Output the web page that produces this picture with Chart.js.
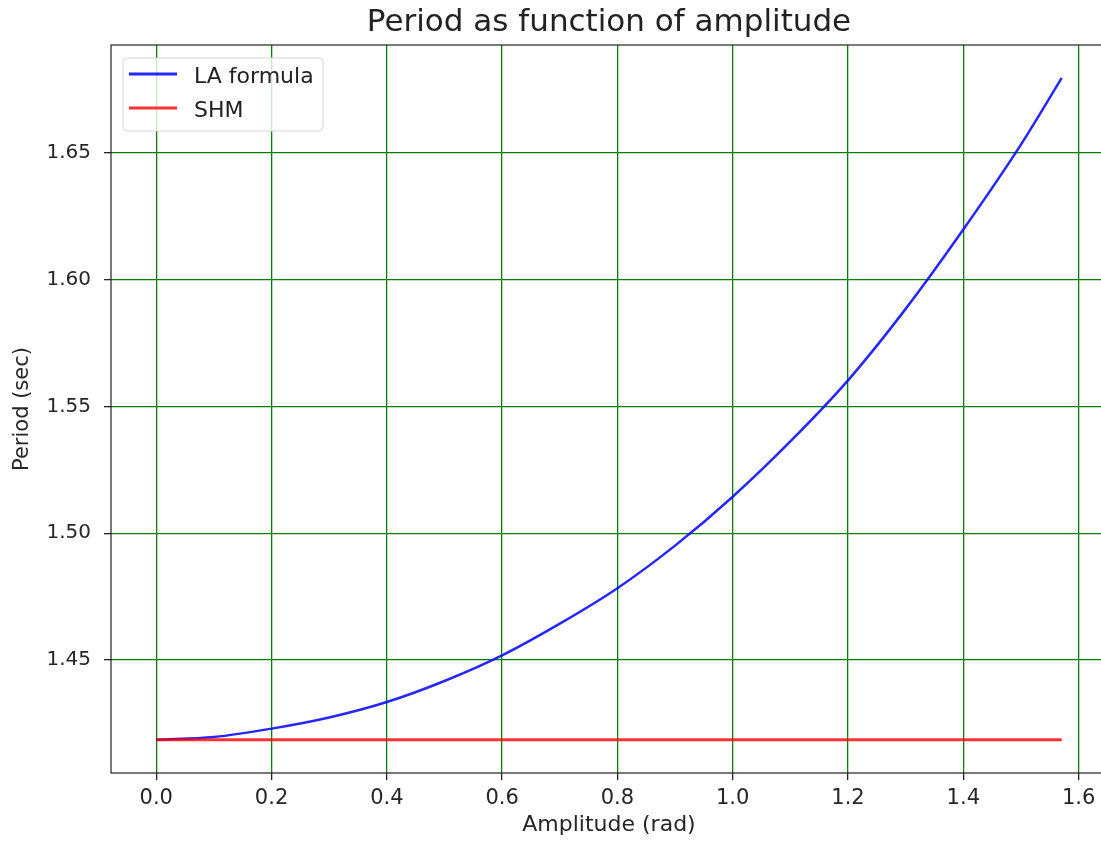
<!DOCTYPE html>
<html>
<head>
<meta charset="utf-8">
<script src="https://cdn.jsdelivr.net/npm/chart.js@4"></script>
<style>
  html, body { margin: 0; padding: 0; background: #fff; overflow: hidden; }
  #wrap { width: 1108px; height: 841px; position: relative; }
</style>
</head>
<body>
<div id="wrap"><canvas id="chart"></canvas></div>
<script>
// amplitude (rad) samples
const amplitude = [0, 0.1, 0.2, 0.3, 0.4, 0.5, 0.6, 0.7, 0.8, 0.9, 1.0, 1.1, 1.2, 1.3, 1.4, 1.5, 1.5708];
const laPeriod = [1.4185, 1.4196, 1.4229, 1.4273, 1.4334, 1.4417, 1.4518, 1.4643, 1.4783, 1.4951, 1.5144, 1.5362, 1.5603, 1.5885, 1.6198, 1.6533, 1.6796];
const shmAmplitude = [0, 1.5708];
const shmPeriod = [1.4185, 1.4185];

const xTicks = [0.0, 0.2, 0.4, 0.6, 0.8, 1.0, 1.2, 1.4, 1.6];
const yTicks = [1.45, 1.50, 1.55, 1.60, 1.65];

const titleText = "Period as function of amplitude";
const FONT = "'DejaVu Sans', sans-serif";

const toPoints = (xs, ys) => xs.map((x, i) => ({ x: x, y: ys[i] }));

// title over the plot box + box frame + legend inside (like matplotlib)
const mplLook = {
  id: "mplLook",
  afterDraw(chart) {
    const { ctx, chartArea: a } = chart;
    ctx.save();
    ctx.strokeStyle = "#222";
    ctx.lineWidth = 1.2;
    ctx.strokeRect(a.left, a.top, a.right - a.left, a.bottom - a.top);

    ctx.fillStyle = "#222";
    ctx.font = "31px " + FONT;
    ctx.textAlign = "center";
    ctx.textBaseline = "alphabetic";
    ctx.fillText(titleText, (a.left + a.right) / 2, 31);

    // legend
    const bx = 123, by = 58, bw = 200, bh = 73;
    ctx.beginPath();
    ctx.roundRect(bx, by, bw, bh, 4);
    ctx.fillStyle = "rgba(255,255,255,0.8)";
    ctx.fill();
    ctx.strokeStyle = "#d6d6d6";
    ctx.lineWidth = 1;
    ctx.stroke();
    const items = chart.data.datasets;
    const rows = [74, 108];
    ctx.font = "22px " + FONT;
    ctx.textAlign = "left";
    items.forEach((ds, i) => {
      ctx.beginPath();
      ctx.moveTo(129, rows[i]);
      ctx.lineTo(177, rows[i]);
      ctx.strokeStyle = ds.borderColor;
      ctx.lineWidth = 3;
      ctx.stroke();
      ctx.fillStyle = "#222";
      ctx.fillText(ds.label, 194, rows[i] + 9);
    });
    ctx.restore();
  }
};

new Chart(document.getElementById("chart"), {
  type: "scatter",
  data: {
    datasets: [
      {
        label: "LA formula",
        data: toPoints(amplitude, laPeriod),
        showLine: true,
        borderColor: "rgba(0,0,255,0.85)",
        borderWidth: 2.5,
        pointRadius: 0,
        cubicInterpolationMode: "monotone",
        order: 1,
      },
      {
        label: "SHM",
        data: toPoints(shmAmplitude, shmPeriod),
        showLine: true,
        borderColor: "rgba(255,0,0,0.8)",
        borderWidth: 3,
        pointRadius: 0,
        order: 0,
      },
    ],
  },
  options: {
    responsive: true,
    maintainAspectRatio: false,
    animation: false,
    layout: { padding: { top: 45, right: 1, bottom: 0, left: 0 } },
    plugins: {
      legend: { display: false },
      title: { display: false },
      tooltip: { enabled: false },
    },
    scales: {
      x: {
        type: "linear",
        min: -0.0785,
        max: 1.6493,
        afterBuildTicks: (s) => { s.ticks = xTicks.map((v) => ({ value: v })); },
        afterFit: (s) => { s.height = 68; },
        grid: { color: "green", lineWidth: 1.3, tickColor: "#222", tickLength: 7, drawOnChartArea: true },
        border: { display: false },
        ticks: {
          color: "#262626",
          padding: 6,
          maxRotation: 0,
          font: { family: FONT, size: 21 },
          callback: (v) => Number(v).toFixed(1),
        },
        title: {
          display: true,
          text: "Amplitude (rad)",
          color: "#262626",
          font: { family: FONT, size: 22 },
          padding: { top: 0, bottom: 3 },
        },
      },
      y: {
        type: "linear",
        min: 1.4054,
        max: 1.6926,
        afterBuildTicks: (s) => { s.ticks = yTicks.map((v) => ({ value: v })); },
        afterFit: (s) => { s.width = 111; },
        grid: { color: "green", lineWidth: 1.3, tickColor: "#222", tickLength: 7 },
        border: { display: false },
        ticks: {
          color: "#262626",
          padding: 13,
          font: { family: FONT, size: 20 },
          callback: (v) => Number(v).toFixed(2),
        },
        title: {
          display: true,
          text: "Period (sec)",
          color: "#262626",
          font: { family: FONT, size: 21 },
          padding: { top: 10, bottom: 2 },
        },
      },
    },
  },
  plugins: [mplLook],
});
</script>
</body>
</html>
